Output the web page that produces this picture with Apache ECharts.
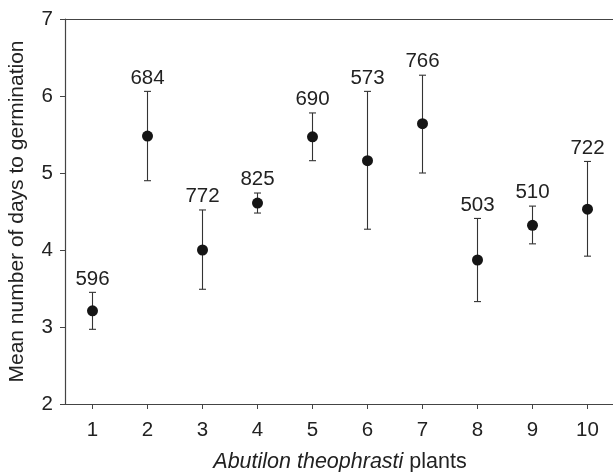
<!DOCTYPE html>
<html>
<head>
<meta charset="utf-8">
<script src="https://cdn.jsdelivr.net/npm/echarts@6/dist/echarts.min.js"></script>
<style>
  html, body { margin: 0; padding: 0; background: #fff; }
  #chart { width: 613px; height: 472px; }
</style>
</head>
<body>
<div id="chart"></div>
<script>
// Germination time of seeds from ten Abutilon theophrasti plants
const plants = [1, 2, 3, 4, 5, 6, 7, 8, 9, 10];
const meanDays = [3.21, 5.48, 4.00, 4.61, 5.47, 5.16, 5.64, 3.87, 4.32, 4.53];
const lowerBar = [2.97, 4.90, 3.49, 4.48, 5.16, 4.27, 5.00, 3.33, 4.08, 3.92];
const upperBar = [3.45, 6.06, 4.52, 4.74, 5.78, 6.06, 6.27, 4.41, 4.57, 5.15];
const seedCounts = [596, 684, 772, 825, 690, 573, 766, 503, 510, 722];
const yTicks = [2, 3, 4, 5, 6, 7];

const FONT = 'Liberation Sans, Arial, Helvetica, sans-serif';
const INK = '#222';
const FS = 20.5;

const barData = plants.map((p, i) => [p, meanDays[i], lowerBar[i], upperBar[i], seedCounts[i]]);

const chart = echarts.init(document.getElementById('chart'), null, { renderer: 'canvas' });

chart.setOption({
  animation: false,
  backgroundColor: '#fff',
  grid: { left: 65, right: -2, top: 19, bottom: 68, containLabel: false, outerBoundsMode: 'none' },
  xAxis: [
    {
      type: 'value',
      min: 0.5,
      max: 10.5,
      position: 'bottom',
      name: '{i|Abutilon theophrasti} plants',
      nameLocation: 'middle',
      nameGap: 47,
      nameTextStyle: {
        fontFamily: FONT, fontSize: 21.5, color: INK,
        rich: { i: { fontFamily: FONT, fontSize: 21.5, fontStyle: 'italic', color: INK } }
      },
      axisLine: { show: true, lineStyle: { color: '#444', width: 1.2 } },
      axisTick: { show: true, length: 5, customValues: plants, lineStyle: { color: '#444' } },
      axisLabel: { customValues: plants, margin: 16, fontFamily: FONT, fontSize: FS, color: INK },
      splitLine: { show: false }
    },
    {
      type: 'value',
      min: 0.5,
      max: 10.5,
      position: 'top',
      axisLine: { show: true, lineStyle: { color: '#444', width: 1.2 } },
      axisTick: { show: false },
      axisLabel: { show: false },
      splitLine: { show: false }
    }
  ],
  yAxis: {
    type: 'value',
    min: yTicks[0],
    max: yTicks[yTicks.length - 1],
    interval: 1,
    name: 'Mean number of days to germination',
    nameLocation: 'middle',
    nameRotate: 90,
    nameGap: 37,
    nameTextStyle: { fontFamily: FONT, fontSize: 21, color: INK },
    axisLine: { show: true, lineStyle: { color: '#444', width: 1.2 } },
    axisTick: { show: true, length: 5, lineStyle: { color: '#444' } },
    axisLabel: { margin: 12, fontFamily: FONT, fontSize: FS, color: INK },
    splitLine: { show: false }
  },
  series: [
    {
      // error bars with caps and the seed count above each bar
      type: 'custom',
      xAxisIndex: 0,
      data: barData,
      encode: { x: 0, y: [2, 3] },
      renderItem: function (params, api) {
        const x = api.value(0);
        const lo = api.coord([x, api.value(2)]);
        const hi = api.coord([x, api.value(3)]);
        const cap = 3.5;
        const stroke = { stroke: '#333', lineWidth: 1.1 };
        return {
          type: 'group',
          children: [
            { type: 'line', shape: { x1: lo[0], y1: lo[1], x2: hi[0], y2: hi[1] }, style: stroke },
            { type: 'line', shape: { x1: hi[0] - cap, y1: hi[1], x2: hi[0] + cap, y2: hi[1] }, style: stroke },
            { type: 'line', shape: { x1: lo[0] - cap, y1: lo[1], x2: lo[0] + cap, y2: lo[1] }, style: stroke },
            {
              type: 'text',
              x: hi[0],
              y: hi[1] - 3,
              style: {
                text: String(api.value(4)),
                fontFamily: FONT,
                fontSize: FS,
                fill: INK,
                align: 'center',
                verticalAlign: 'bottom'
              }
            }
          ]
        };
      },
      z: 2
    },
    {
      type: 'scatter',
      xAxisIndex: 0,
      data: plants.map((p, i) => [p, meanDays[i]]),
      symbol: 'circle',
      symbolSize: 11,
      itemStyle: { color: '#151515', opacity: 1 },
      z: 3
    }
  ]
});
</script>
</body>
</html>
